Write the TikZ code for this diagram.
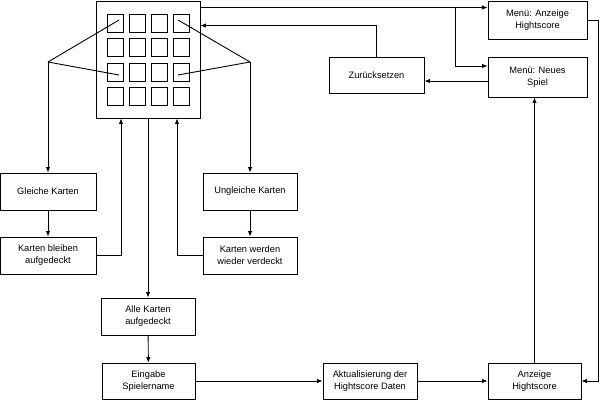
\documentclass[tikz,border=0pt]{standalone}
\usepackage{fontspec}
\setmainfont{Liberation Sans}
\usetikzlibrary{arrows.meta}
\tikzset{ b/.style = { rectangle
                       , draw
                       , line width   = 0.9pt
                       , inner sep    = 1pt
                       , align        = center
                       , font         = \fontsize{9.3}{12}\selectfont
                       },
            k/.style = { rectangle
            , draw = black
            , line width   = 0.9pt
            , minimum width  = 16pt
            , minimum height = 18pt
            },
            p/.style = { line width = 0.9pt
            , -{Latex[length=5.5pt,width=4.5pt]}
            }
          }

\begin{document}
\begin{tikzpicture}[x=1pt, y=-1pt, line width=0.9pt]
    \useasboundingbox (0,0) rectangle (599,401);
    % Spielfeld mit Karten
    \node[b, minimum width=104pt, minimum height=117pt] (feld) at (148,59.5) {};
    \foreach \i/\x in {1/115,2/137,3/159,4/181}
        \foreach \j/\y in {1/23,2/47.5,3/72,4/96}
            \node[k] (c\i\j) at (\x,\y) {};
    \coordinate (gl) at (48,62);
    \coordinate (ug) at (250,62);
    \draw (gl) -- ([shift={(4,-3)}]c11.center);
    \draw (gl) -- ([shift={(4,3)}]c13.center);
    \draw (ug) -- ([shift={(-3,-3)}]c41.center);
    \draw (ug) -- ([shift={(-3,3)}]c43.center);

    % Kästen
    \node[b, minimum width=96pt, minimum height=37pt] (gleich)   at (48,191.5)  {Gleiche Karten};
    \node[b, minimum width=96pt, minimum height=37pt] (bleiben)  at (48,255.5)  {Karten bleiben\\aufgedeckt};
    \node[b, minimum width=94pt, minimum height=37pt] (ungleich) at (250,191.5) {Ungleiche Karten};
    \node[b, minimum width=94pt, minimum height=37pt] (verdeckt) at (250,255.5) {Karten werden\\wieder verdeckt};
    \node[b, minimum width=94pt, minimum height=37pt] (alle)     at (148,316.5) {Alle Karten\\aufgedeckt};
    \node[b, minimum width=93pt, minimum height=36pt] (eingabe)  at (148.5,381) {Eingabe\\Spielername};
    \node[b, minimum width=94pt, minimum height=36pt] (aktual)   at (370,381)   {Aktualisierung der\\Hightscore Daten};
    \node[b, minimum width=93pt, minimum height=36pt] (anzeige)  at (534.5,381) {Anzeige\\Hightscore};
    \node[b, minimum width=99pt, minimum height=38pt] (menuehs)  at (537.5,20)  {Menü: Anzeige\\Hightscore};
    \node[b, minimum width=99pt, minimum height=40pt] (menuesp)  at (537.5,77)  {Menü: Neues\\Spiel};
    \node[b, minimum width=95pt, minimum height=36pt] (zurueck)  at (376.5,75)  {Zurücksetzen};

    % Verbindungen
    \draw[p] (gl) -- (gleich.north);
    \draw[p] (ug) -- (ungleich.north);
    \draw[p] (gleich) -- (bleiben);
    \draw[p] (ungleich) -- (verdeckt);
    \draw[p] (bleiben.east) -| ([xshift=-27pt]feld.south);
    \draw[p] (verdeckt.west) -| ([xshift=29pt]feld.south);
    \draw[p] (feld.south) -- (alle.north);
    \draw[p] (alle) -- (eingabe);
    \draw[p] (eingabe) -- (aktual);
    \draw[p] (aktual) -- (anzeige);
    \draw[p] (anzeige.north) -- (anzeige.north |- menuesp.south);
    \draw[p] (menuehs.east) -- ++(11,0) |- (anzeige.east);
    \coordinate (o) at ([yshift=-7pt]feld.north east);
    \coordinate (abzw) at (455,8);
    \draw[p] (o) -- (o -| menuehs.west);
    \draw[p] (abzw) |- ([yshift=11pt]menuesp.west);
    \draw[p] ([yshift=-4pt]menuesp.west) -- ([yshift=-4pt]menuesp.west -| zurueck.east);
    \draw[p] (zurueck.north) |- ([yshift=-25pt]feld.north east);
\end{tikzpicture}
\end{document}
